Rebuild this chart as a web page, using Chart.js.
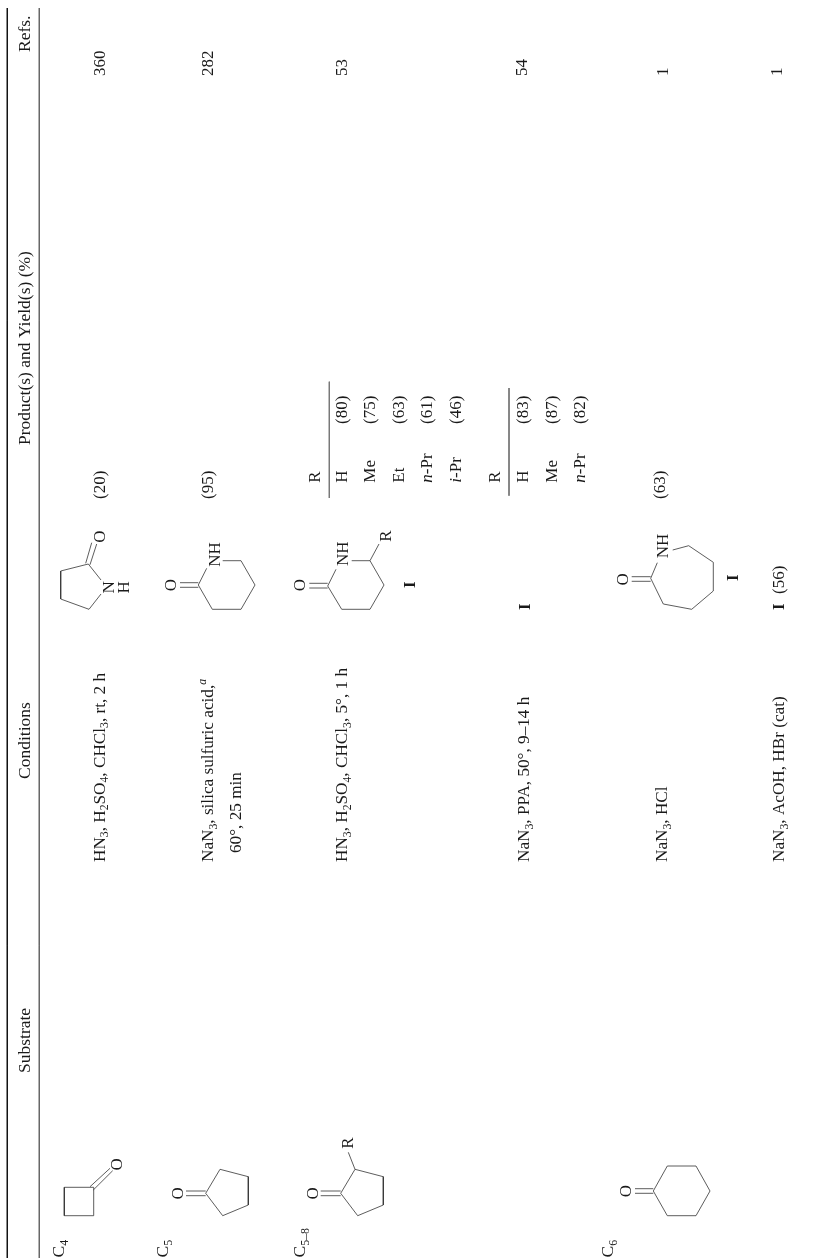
<!DOCTYPE html>
<html lang="en">
<head>
    <meta charset="UTF-8">
    <title>Schmidt reaction table</title>
    <script src="https://cdn.jsdelivr.net/npm/chart.js"></script>
    <style>
        body { margin: 0; background: #fff; }
        canvas { display: block; }
    </style>
</head>
<body>
    <canvas id="tableChart" width="818" height="1260"></canvas>

    <script>
        // the page is one rotated table, the axes run over the whole sheet (x across, y down)
        const sheetWidth = 818;
        const sheetHeight = 1260;

        // column headers
        const headers = ['Substrate', 'Conditions', 'Product(s) and Yield(s) (%)', 'Refs.'];
        const headerStart = [1073, 779, 445, 52];

        // substrate size labels
        const sizes = ['C_{4}', 'C_{5}', 'C_{5–8}', 'C_{6}'];
        const sizeLine = [64, 168, 305, 613];

        // conditions
        const conditions = [
            'HN_{3}, H_{2}SO_{4}, CHCl_{3}, rt, 2 h',
            'NaN_{3}, silica sulfuric acid,^{a}',
            '60°, 25 min',
            'HN_{3}, H_{2}SO_{4}, CHCl_{3}, 5°, 1 h',
            'NaN_{3}, PPA, 50°, 9–14 h',
            'NaN_{3}, HCl',
            'NaN_{3}, AcOH, HBr (cat)'
        ];
        const conditionLine = [104.5, 213, 241, 347, 529, 667, 784];
        const conditionStart = [862, 862, 853, 862, 862, 862, 862];

        // yields next to the drawn products
        const yields = ['(20)', '(95)', '(63)'];
        const yieldLine = [105, 213, 665];
        const yieldStart = 499;

        // R tables
        const rNames = ['R', 'H', 'Me', 'Et', '*n*-Pr', '*i*-Pr', 'R', 'H', 'Me', '*n*-Pr'];
        const rLine = [320, 346.7, 375, 404, 432, 460.7, 500, 528, 556.7, 585];
        const rStart = 482.7;
        const rYields = ['(80)', '(75)', '(63)', '(61)', '(46)', '(83)', '(87)', '(82)'];
        const rYieldLine = [346.7, 375, 404, 432, 460.7, 528, 556.7, 585];
        const rYieldStart = 424;

        // bold compound labels
        const compounds = ['I', 'I', 'I', 'I'];
        const compoundLine = [415, 530, 738, 784];
        const compoundStart = [588, 610, 581, 610];
        const extraYield = '(56)';
        const extraYieldLine = 784;
        const extraYieldStart = 594;

        // references
        const refs = ['360', '282', '53', '54', '1', '1'];
        const refLine = [105, 213, 347, 527, 667.5, 782];
        const refStart = 76;

        // single atoms in the drawings, centred on the point
        const atoms = ['O', 'O', 'O', 'O', 'O', 'O', 'O', 'O', 'N', 'H', 'R', 'R'];
        const atomX = [116.7, 177.7, 312.7, 625.7, 99.3, 170, 299.3, 622.7, 108.3, 123.3, 347, 385.5];
        const atomY = [1164.3, 1193.3, 1193.3, 1191, 536.7, 585, 585, 579.3, 587.3, 587.3, 1143, 536];

        // NH groups in the drawings
        const nhGroups = ['NH', 'NH', 'NH'];
        const nhLine = [220, 348.3, 668.3];
        const nhStart = [566.7, 566, 558.3];

        // table rules
        const rules = [
            [[7.3, 8], [7.3, 1258]],
            [[39.3, 8], [39.3, 1258]],
            [[329.3, 381.7], [329.3, 498]],
            [[509, 388], [509, 495.7]]
        ];
        const ruleColors = ['#111', '#666', '#777', '#777'];

        // chemical drawings, each entry is one stroke
        const bonds = [
            // cyclobutanone
            [[93.7, 1187.3], [64.3, 1187.3], [64.3, 1215.7], [93.7, 1215.7], [93.7, 1187.3]],
            [[90, 1186.7], [110, 1168.3]],
            [[93.3, 1190], [112.7, 1170.7]],
            // cyclopentanone
            [[205.7, 1193.3], [220, 1169.3], [248.3, 1176.7], [248.3, 1205], [222.7, 1215.7], [205.7, 1193.3]],
            [[186, 1191], [205.7, 1191]],
            [[186, 1195.7], [205.7, 1195.7]],
            // 2-R-cyclopentanone
            [[340.7, 1193.3], [355, 1169.3], [383.3, 1176.7], [383.3, 1205], [357.7, 1215.7], [340.7, 1193.3]],
            [[320.7, 1191], [340.7, 1191]],
            [[320.7, 1195.7], [340.7, 1195.7]],
            [[355, 1169.3], [348.3, 1152.3]],
            // cyclohexanone
            [[653.3, 1191], [667.3, 1166], [696, 1166], [710, 1191], [696, 1215.7], [667.3, 1215.7], [653.3, 1191]],
            [[635, 1188.7], [653.3, 1188.7]],
            [[635, 1193.3], [653.3, 1193.3]],
            // pyrrolidinone
            [[101, 580], [88.3, 564], [60.7, 571], [60.7, 599], [89, 609.3], [101, 594]],
            [[85.7, 563.3], [91.7, 542.7]],
            [[90, 564.7], [96.7, 544]],
            // piperidinone
            [[206.7, 568.3], [198.3, 585], [212.3, 609.3], [241, 609.3], [255, 585], [241, 560.7], [222.7, 560.7]],
            [[180, 582.7], [198.3, 582.7]],
            [[180, 587.3], [198.3, 587.3]],
            // R-piperidinone
            [[336, 569.3], [327.7, 586], [341.7, 609.3], [370, 609.3], [384, 585], [370, 560.7], [351.7, 560.7]],
            [[309.3, 583.3], [327.7, 583.3]],
            [[309.3, 588], [327.7, 588]],
            [[370, 560.7], [379, 544]],
            // azepanone
            [[657.3, 562.7], [650.7, 578.3], [663.3, 604], [691.7, 609.3], [713.3, 591], [713.3, 562.3], [688.7, 545.7], [672.7, 550]],
            [[631.7, 576.7], [650.7, 576.7]],
            [[631.7, 581.3], [650.7, 581.3]]
        ];

        const serif = '"Liberation Serif", serif';
        const inkColor = '#1a1a1a';
        const headerSize = 17.5;
        const conditionSize = 17.2;
        const bodySize = 17;

        // turns a list of [x, y] pairs into a line dataset
        function strokeDataset(pairs, color, width) {
            return {
                data: pairs.map(p => ({ x: p[0], y: p[1] })),
                showLine: true,
                fill: false,
                tension: 0,
                pointRadius: 0,
                borderColor: color,
                borderWidth: width
            };
        }

        // splits "HN_{3}, *n*-Pr" into plain, sub, sup and italic pieces
        function splitMarkup(text) {
            const pieces = [];
            const re = /_\{(.*?)\}|\^\{(.*?)\}|\*(.*?)\*|([^_^*]+)/g;
            let m;
            while ((m = re.exec(text)) !== null) {
                if (m[1] !== undefined) pieces.push({ t: m[1], kind: 'sub' });
                else if (m[2] !== undefined) pieces.push({ t: m[2], kind: 'sup' });
                else if (m[3] !== undefined) pieces.push({ t: m[3], kind: 'it' });
                else pieces.push({ t: m[4], kind: 'plain' });
            }
            return pieces;
        }

        // draws one label reading bottom to top, with its baseline on the data point
        function drawLabel(ctx, scales, text, line, start, size, bold) {
            ctx.save();
            ctx.translate(scales.x.getPixelForValue(line), scales.y.getPixelForValue(start));
            ctx.rotate(-Math.PI / 2);
            ctx.fillStyle = inkColor;
            ctx.textBaseline = 'alphabetic';
            let pos = 0;
            splitMarkup(text).forEach(piece => {
                let font = (bold ? 'bold ' : '') + size + 'px ' + serif;
                let shift = 0;
                if (piece.kind === 'sub') { font = (size * 0.68) + 'px ' + serif; shift = 3.5; }
                if (piece.kind === 'sup') { font = 'italic ' + (size * 0.68) + 'px ' + serif; shift = -7; }
                if (piece.kind === 'it') { font = 'italic ' + size + 'px ' + serif; }
                ctx.font = font;
                ctx.fillText(piece.t, pos, shift);
                pos += ctx.measureText(piece.t).width;
            });
            ctx.restore();
        }

        // plugin that writes every table text through the scales
        const tableText = {
            id: 'tableText',
            afterDatasetsDraw(chart) {
                const ctx = chart.ctx;
                const scales = chart.scales;
                headers.forEach((t, i) => drawLabel(ctx, scales, t, 30, headerStart[i], headerSize));
                sizes.forEach((t, i) => drawLabel(ctx, scales, t, sizeLine[i], 1257.5, headerSize));
                conditions.forEach((t, i) => drawLabel(ctx, scales, t, conditionLine[i], conditionStart[i], conditionSize));
                yields.forEach((t, i) => drawLabel(ctx, scales, t, yieldLine[i], yieldStart, bodySize));
                rNames.forEach((t, i) => drawLabel(ctx, scales, t, rLine[i], rStart, bodySize));
                rYields.forEach((t, i) => drawLabel(ctx, scales, t, rYieldLine[i], rYieldStart, bodySize));
                compounds.forEach((t, i) => drawLabel(ctx, scales, t, compoundLine[i], compoundStart[i], bodySize, true));
                drawLabel(ctx, scales, extraYield, extraYieldLine, extraYieldStart, bodySize);
                refs.forEach((t, i) => drawLabel(ctx, scales, t, refLine[i], refStart, bodySize));
                nhGroups.forEach((t, i) => drawLabel(ctx, scales, t, nhLine[i], nhStart[i], bodySize));
                atoms.forEach((t, i) => {
                    ctx.font = bodySize + 'px ' + serif;
                    const half = ctx.measureText(t).width / 2;
                    drawLabel(ctx, scales, t, atomX[i] + 5.6, atomY[i] + half, bodySize);
                });
            }
        };

        new Chart(document.getElementById('tableChart').getContext('2d'), {
            type: 'scatter',
            data: {
                datasets: [
                    ...rules.map((r, i) => strokeDataset(r, ruleColors[i], 1)),
                    ...bonds.map(b => strokeDataset(b, '#333', 0.8))
                ]
            },
            options: {
                responsive: false,
                animation: false,
                layout: { padding: 0 },
                plugins: { legend: { display: false }, tooltip: { enabled: false } },
                scales: {
                    x: { type: 'linear', display: false, min: 0, max: sheetWidth },
                    y: { type: 'linear', display: false, reverse: true, min: 0, max: sheetHeight }
                }
            },
            plugins: [tableText]
        });
    </script>
</body>
</html>
